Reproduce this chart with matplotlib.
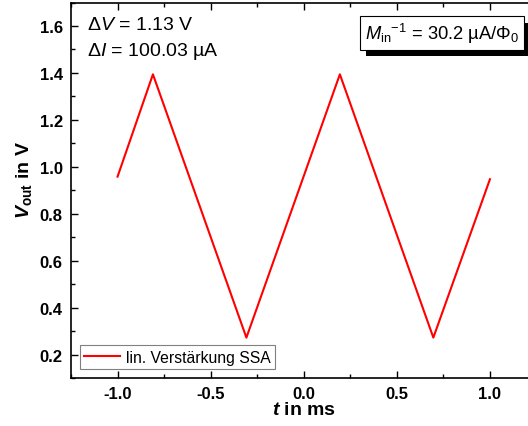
import matplotlib
matplotlib.use('Agg')
import matplotlib.pyplot as plt
import matplotlib.patheffects as pe
from matplotlib.ticker import MultipleLocator

plt.rcParams['font.family'] = ['Liberation Sans', 'DejaVu Sans']
plt.rcParams['axes.unicode_minus'] = False
plt.rcParams['mathtext.fontset'] = 'custom'
plt.rcParams['mathtext.rm'] = 'Liberation Sans'
plt.rcParams['mathtext.it'] = 'Liberation Sans:italic'
plt.rcParams['mathtext.bf'] = 'Liberation Sans:bold'
plt.rcParams['mathtext.bfit'] = 'Liberation Sans:bold:italic'

# triangle signal, corner points
t_ms = [-1.0, -0.81, -0.308, 0.194, 0.696, 1.0]
v_out = [0.958, 1.394, 0.272, 1.394, 0.272, 0.947]

fig = plt.figure(figsize=(5.28, 4.27), dpi=100)
ax = fig.add_axes([71/528, 48/427, 465.5/528, 375.5/427])

ax.plot(t_ms, v_out, color='red', lw=1.5, label='lin. Verstärkung SSA')

ax.set_xlim(-1.25, 1.25)
ax.set_ylim(0.1, 1.7)
ax.xaxis.set_major_locator(MultipleLocator(0.5))
ax.xaxis.set_minor_locator(MultipleLocator(0.25))
ax.yaxis.set_major_locator(MultipleLocator(0.2))
ax.yaxis.set_minor_locator(MultipleLocator(0.1))
ax.tick_params(which='both', direction='in', top=True, right=True, width=1)
ax.tick_params(which='major', length=5, labelsize=12, pad=6)
ax.tick_params(which='minor', length=3)
for lab in ax.get_xticklabels() + ax.get_yticklabels():
    lab.set_fontweight('bold')
for s in ax.spines.values():
    s.set_linewidth(1.2)

ax.set_xlabel(r'$\mathbfit{t}$ in ms', fontsize=14, fontweight='bold', labelpad=0)
ax.set_ylabel(r'$\mathbfit{V}_\mathbf{out}$ in V', fontsize=14, fontweight='bold')
ax.yaxis.set_label_coords(-0.08, 0.53)

fig.text(87/528, 1 - 26/427, r'Δ$\mathit{V}$ = 1.13 V', fontsize=14, va='center', ha='left')
fig.text(87/528, 1 - 51/427, r'Δ$\mathit{I}$ = 100.03 µA', fontsize=14, va='center', ha='left')

box = fig.text(442/528, 1 - 34/427, r'$\mathit{M}_\mathrm{in}$$^{-1}$ = 30.2 µA/Φ$_0$',
               fontsize=13.2, va='center', ha='center',
               bbox=dict(boxstyle='square,pad=0.25', fc='white', ec='black', lw=0.8))
box.get_bbox_patch().set_path_effects(
    [pe.withSimplePatchShadow(offset=(4.5, -4.5), shadow_rgbFace='black', alpha=1.0)])

leg = ax.legend(loc='lower left', fontsize=11.3, fancybox=False, framealpha=1,
                edgecolor='gray', borderaxespad=0.55, handlelength=2.3,
                borderpad=0.3, handletextpad=0.35)
leg.get_frame().set_linewidth(0.8)

fig.savefig('out.png', dpi=100)
